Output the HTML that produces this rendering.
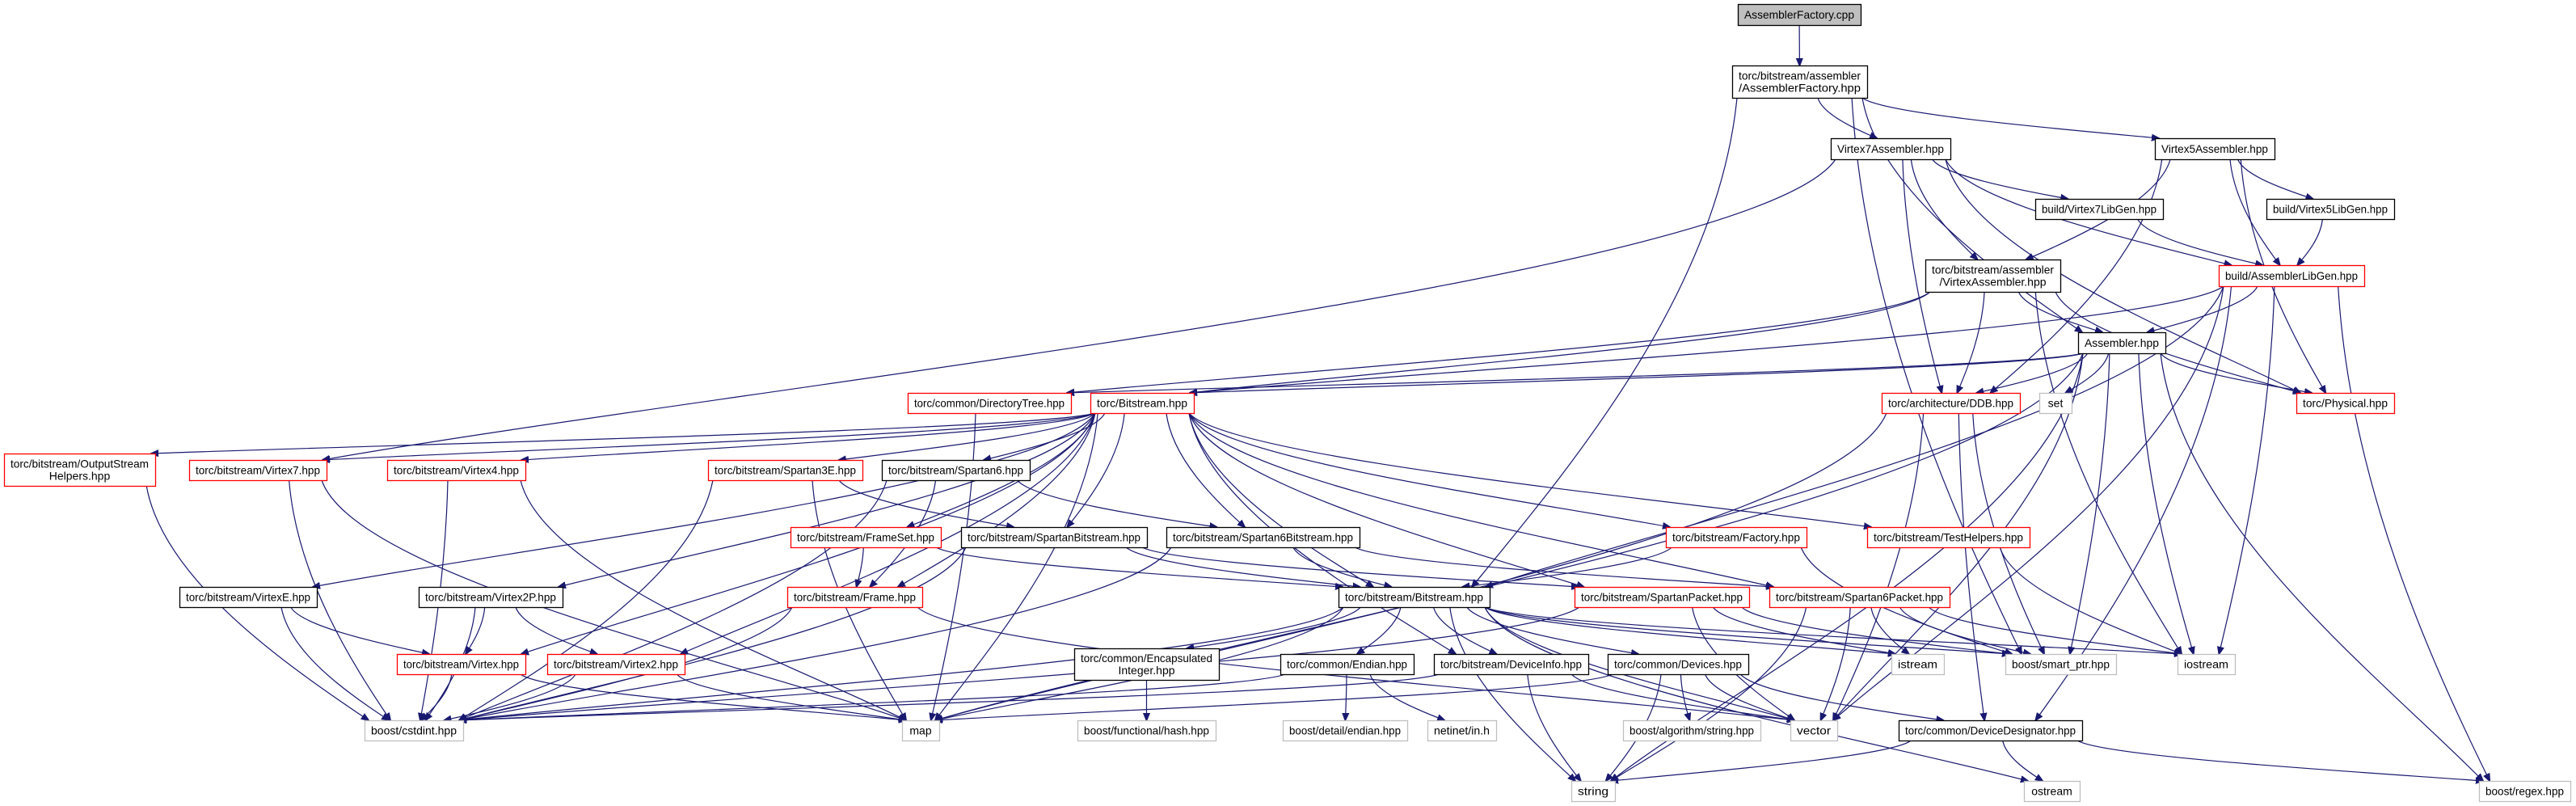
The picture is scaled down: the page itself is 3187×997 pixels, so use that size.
<!DOCTYPE html>
<html><head><meta charset="utf-8">
<style>
html,body{margin:0;padding:0;background:#fff;}
svg{display:block;}
text{font-family:"Liberation Sans",Arial,sans-serif;font-size:14px;fill:#000;}
</style></head>
<body>
<svg id="g" xmlns="http://www.w3.org/2000/svg" width="3187" height="997" viewBox="0 0 3187 997">
<defs>
<marker id="ah" viewBox="0 0 10 10" refX="9" refY="5" markerWidth="10" markerHeight="10" markerUnits="userSpaceOnUse" orient="auto">
<path d="M0,1 L10,5 L0,9 z" fill="#191970" stroke="#191970"/>
</marker>
</defs>
<g id="edges" fill="none" stroke="#191970" stroke-width="1.2"></g>
<g id="nodes"></g>
</svg>
<script>
var N={
afc:[2150,5,2302,31,'f',['AssemblerFactory.cpp']],
afh:[2143,81,2310,121,'k',['torc/bitstream/assembler','/AssemblerFactory.hpp']],
v7a:[2265,171,2413,197,'k',['Virtex7Assembler.hpp']],
v5a:[2666,171,2814,197,'k',['Virtex5Assembler.hpp']],
v7l:[2518,246,2676,271,'k',['build/Virtex7LibGen.hpp']],
v5l:[2804,246,2962,271,'k',['build/Virtex5LibGen.hpp']],
va:[2382,321,2549,361,'k',['torc/bitstream/assembler','/VirtexAssembler.hpp']],
alg:[2745,328,2925,354,'r',['build/AssemblerLibGen.hpp']],
asm:[2571,411,2679,437,'k',['Assembler.hpp']],
dt:[1123,486,1325,511,'r',['torc/common/DirectoryTree.hpp']],
tb:[1349,486,1477,511,'r',['torc/Bitstream.hpp']],
ddb:[2328,486,2499,511,'r',['torc/architecture/DDB.hpp']],
set:[2523,486,2563,511,'g',['set']],
phy:[2841,486,2962,511,'r',['torc/Physical.hpp']],
osh:[5,561,192,601,'r',['torc/bitstream/OutputStream','Helpers.hpp']],
v7:[234,569,404,594,'r',['torc/bitstream/Virtex7.hpp']],
v4:[479,569,650,594,'r',['torc/bitstream/Virtex4.hpp']],
s3e:[876,569,1067,594,'r',['torc/bitstream/Spartan3E.hpp']],
s6:[1091,569,1274,594,'k',['torc/bitstream/Spartan6.hpp']],
fs:[978,652,1164,677,'r',['torc/bitstream/FrameSet.hpp']],
sb:[1189,652,1419,677,'k',['torc/bitstream/SpartanBitstream.hpp']],
s6b:[1443,652,1682,677,'k',['torc/bitstream/Spartan6Bitstream.hpp']],
fac:[2061,652,2235,677,'r',['torc/bitstream/Factory.hpp']],
th:[2310,652,2511,677,'r',['torc/bitstream/TestHelpers.hpp']],
ve:[222,726,392,751,'k',['torc/bitstream/VirtexE.hpp']],
v2p:[518,726,696,751,'k',['torc/bitstream/Virtex2P.hpp']],
fr:[974,726,1141,751,'r',['torc/bitstream/Frame.hpp']],
bb:[1656,726,1843,751,'k',['torc/bitstream/Bitstream.hpp']],
sp:[1948,726,2164,751,'r',['torc/bitstream/SpartanPacket.hpp']],
s6p:[2189,726,2412,751,'r',['torc/bitstream/Spartan6Packet.hpp']],
ei:[1329,802,1508,841,'k',['torc/common/Encapsulated','Integer.hpp']],
v:[491,809,650,834,'r',['torc/bitstream/Virtex.hpp']],
v2:[677,809,847,834,'r',['torc/bitstream/Virtex2.hpp']],
en:[1584,809,1749,834,'k',['torc/common/Endian.hpp']],
di:[1774,809,1965,834,'k',['torc/bitstream/DeviceInfo.hpp']],
dev:[1989,809,2163,834,'k',['torc/common/Devices.hpp']],
ist:[2340,809,2405,834,'g',['istream']],
sm:[2481,809,2618,834,'g',['boost/smart_ptr.hpp']],
ios:[2694,809,2765,834,'g',['iostream']],
cs:[451,891,573,916,'g',['boost/cstdint.hpp']],
map:[1116,891,1162,916,'g',['map']],
hash:[1333,891,1504,916,'g',['boost/functional/hash.hpp']],
ed:[1587,891,1741,916,'g',['boost/detail/endian.hpp']],
net:[1766,891,1851,916,'g',['netinet/in.h']],
as:[2008,891,2178,916,'g',['boost/algorithm/string.hpp']],
vec:[2215,891,2273,916,'g',['vector']],
dd:[2349,891,2576,916,'k',['torc/common/DeviceDesignator.hpp']],
str:[1944,966,1998,991,'g',['string']],
ost:[2504,966,2573,991,'g',['ostream']],
rx:[3067,966,3180,991,'g',['boost/regex.hpp']]
};
var E=[
['afc','afh'],['afh','v7a'],['afh','v5a'],['afh','asm'],['afh','bb'],['afh','sm'],
['v7a','v7'],['v7a','v7l'],['v7a','va'],['v7a','alg'],['v7a','ddb'],['v7a','phy'],
['v5a','va'],['v5a','ddb'],['v5a','alg'],['v5a','v5l'],['v5a','phy'],
['v7l','alg'],['v5l','alg'],
['va','asm'],['va','ddb'],['va','dt'],['va','tb'],['va','ios'],['va','phy'],
['alg','asm'],['alg','tb'],['alg','ios'],['alg','vec'],['alg','rx'],['alg','bb'],['alg','dd'],
['asm','dt'],['asm','tb'],['asm','ddb'],['asm','set'],['asm','phy'],['asm','ios'],['asm','sm'],['asm','vec'],['asm','rx'],['asm','str'],['asm','map'],
['ddb','sm'],['ddb','vec'],['ddb','dd'],['ddb','map'],
['dt','map'],
['tb','osh'],['tb','v7'],['tb','v4'],['tb','ve'],['tb','v2p'],['tb','v'],['tb','v2'],['tb','s3e'],['tb','s6'],['tb','fs'],['tb','fr'],['tb','sb'],['tb','s6b'],['tb','bb'],['tb','fac'],['tb','th'],['tb','sp'],['tb','s6p'],['tb','di'],['tb','map'],
['osh','cs'],['v7','cs'],['v7','map'],['v4','cs'],['v4','map'],
['ve','cs'],['ve','v'],['v2p','cs'],['v2p','v2'],['v2p','v'],['v','cs'],['v','map'],['v2','cs'],['v2','map'],
['s3e','cs'],['s3e','map'],['s3e','sb'],['s6','s6b'],['s6','fr'],['s6','cs'],
['fs','fr'],['fs','bb'],['fr','cs'],['fr','vec'],
['sb','cs'],['sb','bb'],['sb','sp'],['s6b','bb'],['s6b','s6p'],['s6b','cs'],
['fac','bb'],['fac','sm'],['th','ios'],
['sp','ist'],['sp','vec'],['sp','sm'],['sp','cs'],
['s6p','ist'],['s6p','ios'],['s6p','sm'],['s6p','vec'],['s6p','str'],
['bb','ei'],['bb','en'],['bb','di'],['bb','dev'],['bb','map'],['bb','str'],['bb','vec'],['bb','ist'],['bb','ios'],['bb','sm'],['bb','ost'],['bb','cs'],
['ei','hash'],['en','ed'],['en','net'],['en','cs'],
['di','str'],['di','vec'],['di','cs'],
['dev','str'],['dev','vec'],['dev','as'],['dev','dd'],['dev','map'],
['dd','str'],['dd','ost'],['dd','rx']
];
var NS='http://www.w3.org/2000/svg';
var ng=document.getElementById('nodes'),eg=document.getElementById('edges');
function el(t,a,p){var e=document.createElementNS(NS,t);for(var k in a)e.setAttribute(k,a[k]);p.appendChild(e);return e;}
E.forEach(function(e){
 var A=N[e[0]],B=N[e[1]];
 var acx=(A[0]+A[2])/2,bcx=(B[0]+B[2])/2,aw=A[2]-A[0],bw=B[2]-B[0];
 var dy=B[1]-A[3],dx=bcx-acx;
 var sx=acx+Math.max(-aw/2+6,Math.min(aw/2-6,dx*0.2)),sy=A[3];
 var ex,ey,d;
 if(dy<20){
   ey=(B[1]+B[3])/2; ex=dx>0?B[0]:B[2];
   if(dy<0){sy=(A[1]+A[3])/2; sx=dx>0?A[2]:A[0];}
   var mx=(sx+ex)/2;
   d='M'+sx+','+sy+' C'+mx+','+sy+' '+mx+','+ey+' '+ex+','+ey;
 } else {
   ex=bcx+Math.max(-bw/2+5,Math.min(bw/2-5,-dx*0.15));ey=B[1];
   var k=Math.max(dy*0.4,15);
   d='M'+sx+','+sy+' C'+(sx+dx*0.05)+','+(sy+k)+' '+(ex-dx*0.25)+','+(ey-k*0.6)+' '+ex+','+ey;
 }
 el('path',{d:d,'marker-end':'url(#ah)'},eg);
});
for(var id in N){
 var n=N[id],w=n[2]-n[0],h=n[3]-n[1];
 var st={f:['#bfbfbf','#000'],k:['#fff','#000'],r:['#fff','#ff0000'],g:['#fff','#bfbfbf']}[n[4]];
 el('rect',{x:n[0]+.5,y:n[1]+.5,width:w,height:h,fill:st[0],stroke:st[1],'stroke-width':1.3},ng);
 var L=n[5];
 L.forEach(function(s,i){
   var ty=n[1]+h/2+5+(L.length==2?(i==0?-7.5:7.5):0);
   var t=el('text',{x:n[0]+w/2,y:ty,'text-anchor':'middle'},ng);
   t.textContent=s;
   var tl=w-16; var est=s.length*7.2;
   if(est>tl){t.setAttribute('textLength',tl);t.setAttribute('lengthAdjust','spacingAndGlyphs');}
 });
}
</script>
</body></html>
